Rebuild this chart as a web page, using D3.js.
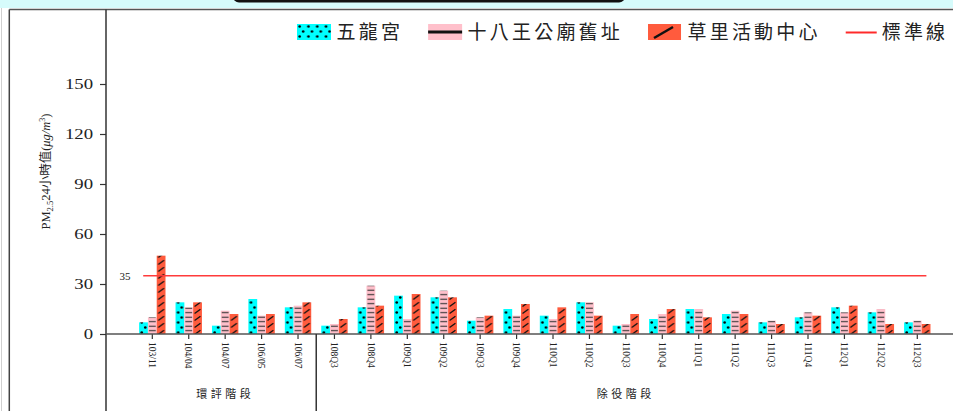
<!DOCTYPE html>
<html>
<head>
<meta charset="utf-8">
<script src="https://cdn.jsdelivr.net/npm/d3@7"></script>
<style>
  html, body { margin: 0; padding: 0; background: #fff; }
  #chart { width: 953px; height: 411px; overflow: hidden; }
  text { font-family: "Liberation Serif", "Noto Sans CJK TC", serif; fill: #222; }
</style>
</head>
<body>
<div id="chart"></div>
<script>
const categories = [
  '103/11', '104/04', '104/07', '106/05', '106/07',
  '108Q3', '108Q4', '109Q1', '109Q2', '109Q3', '109Q4',
  '110Q1', '110Q2', '110Q3', '110Q4',
  '111Q1', '111Q2', '111Q3', '111Q4',
  '112Q1', '112Q2', '112Q3'
];
const seriesNames = ['五龍宮', '十八王公廟舊址', '草里活動中心'];
const wulongValues = [7, 19, 5, 21, 16, 5, 16, 23, 22, 8, 15, 11, 19, 5, 9, 15, 12, 7, 10, 16, 13, 7];
const shibaValues = [10, 16, 14, 11, 17, 6, 29, 9, 26, 10, 11, 9, 19, 6, 12, 15, 14, 8, 13, 13, 15, 8];
const caoliValues = [47, 19, 12, 12, 19, 9, 17, 24, 22, 11, 18, 16, 11, 12, 15, 10, 12, 6, 11, 17, 6, 6];
const standardName = '標準線';
const standardValue = 35;
const yTicks = [0, 30, 60, 90, 120, 150];
const phaseNames = ['環評階段', '除役階段'];
const phaseFirst = ['103/11', '108Q3'];
const phaseLast = ['106/07', '112Q3'];

const chart = {
  width: 953,
  height: 411,
  frameTop: 9.5,
  frameLeft: 9.3,
  axisX: 106,
  groupWidth: 26.4,

  init() {
    this.svg = d3.select('#chart').append('svg')
      .attr('width', this.width)
      .attr('height', this.height);

    this.x = d3.scaleBand().domain(categories).range([134.1, 935.5]);
    this.x1 = d3.scaleBand().domain(seriesNames).range([0, this.groupWidth]);
    this.y = d3.scaleLinear().domain([0, 150]).range([334, 84]);
    this.barWidth = this.x1.bandwidth();

    this.addPatterns();
    this.drawFrame();
    this.drawAxes();
    this.drawBars();
    this.drawStandard();
    this.drawPhases();
    this.drawLegend();
  },

  addPatterns() {
    const defs = this.svg.append('defs');
    const bw = this.barWidth;

    const dots = defs.append('pattern').attr('id', 'p0')
      .attr('patternUnits', 'userSpaceOnUse').attr('width', bw).attr('height', 10);
    dots.append('rect').attr('width', bw).attr('height', 10).attr('fill', '#00ffff');
    dots.append('circle').attr('cx', bw * 0.3).attr('cy', 2.5).attr('r', 1.3).attr('fill', '#000');
    dots.append('circle').attr('cx', bw * 0.7).attr('cy', 7.5).attr('r', 1.3).attr('fill', '#000');

    const lines = defs.append('pattern').attr('id', 'p1')
      .attr('patternUnits', 'userSpaceOnUse').attr('width', bw).attr('height', 4.5);
    lines.append('rect').attr('width', bw).attr('height', 4.5).attr('fill', '#ffc0cb');
    lines.append('line').attr('x1', 1).attr('x2', bw - 1).attr('y1', 2.2).attr('y2', 2.2)
      .attr('stroke', '#333').attr('stroke-width', 1.1);

    const slash = defs.append('pattern').attr('id', 'p2')
      .attr('patternUnits', 'userSpaceOnUse').attr('width', bw).attr('height', 7);
    slash.append('rect').attr('width', bw).attr('height', 7).attr('fill', '#ff5b3d');
    slash.append('line').attr('x1', 1.5).attr('y1', 5.6).attr('x2', bw - 1.5).attr('y2', 1.2)
      .attr('stroke', '#111').attr('stroke-width', 1.3);
  },

  drawFrame() {
    const svg = this.svg;
    svg.append('rect').attr('x', 0).attr('y', 0).attr('width', this.width).attr('height', 8)
      .attr('fill', '#d6fbfb');
    svg.append('rect').attr('x', 233).attr('y', -10).attr('width', 392).attr('height', 12.5)
      .attr('rx', 6).attr('fill', '#111');
    svg.append('line').attr('x1', 1.5).attr('x2', 1.5).attr('y1', 8).attr('y2', this.height)
      .attr('stroke', '#d0d0d0').attr('stroke-width', 1);
    svg.append('line').attr('x1', this.frameLeft).attr('x2', this.width)
      .attr('y1', this.frameTop).attr('y2', this.frameTop)
      .attr('stroke', '#555').attr('stroke-width', 1.5);
    svg.append('line').attr('x1', this.frameLeft).attr('x2', this.frameLeft)
      .attr('y1', this.frameTop).attr('y2', this.height)
      .attr('stroke', '#444').attr('stroke-width', 1.5);
  },

  drawAxes() {
    const svg = this.svg;
    const y0 = this.y(0);

    const yAxis = svg.append('g')
      .attr('transform', `translate(${this.axisX},0)`)
      .call(d3.axisLeft(this.y).tickValues(yTicks).tickSize(6).tickFormat(d3.format('d')));
    yAxis.select('.domain').remove();
    yAxis.selectAll('.tick line').attr('stroke', '#333').attr('stroke-width', 1.2);
    yAxis.selectAll('.tick text')
      .attr('x', -13 / 1.25)
      .attr('transform', 'scale(1.25,1)')
      .style('font-size', '15px')
      .style('font-family', '"Liberation Serif", serif')
      .attr('fill', '#222');

    svg.append('line').attr('x1', this.axisX).attr('x2', this.axisX)
      .attr('y1', this.frameTop).attr('y2', this.height)
      .attr('stroke', '#333').attr('stroke-width', 1.5);

    const xAxis = svg.append('g')
      .attr('transform', `translate(0,${y0})`)
      .call(d3.axisBottom(this.x).tickSize(5));
    xAxis.select('.domain').remove();
    xAxis.selectAll('.tick line').attr('stroke', '#333').attr('stroke-width', 1.2);
    xAxis.selectAll('.tick text')
      .attr('transform', 'rotate(90)')
      .attr('x', 8)
      .attr('y', 0)
      .attr('dy', '0.35em')
      .style('text-anchor', 'start')
      .style('font-size', '9.5px')
      .style('font-family', '"Liberation Serif", serif')
      .attr('fill', '#222');

    const title = svg.append('text')
      .attr('transform', 'translate(50,171.5) rotate(-90)')
      .attr('text-anchor', 'middle')
      .style('font-size', '12.5px');
    title.append('tspan').text('PM');
    title.append('tspan').attr('dy', 3).style('font-size', '8.5px').text('2.5');
    title.append('tspan').attr('dy', -3).text('24小時值(');
    title.append('tspan').style('font-style', 'italic').text('μg/m');
    title.append('tspan').attr('dy', -5).style('font-size', '8px').text('3');
    title.append('tspan').attr('dy', 5).text(')');
  },

  drawBars() {
    const rows = categories.map((c, i) => ({
      category: c,
      values: [wulongValues[i], shibaValues[i], caoliValues[i]]
    }));
    const offset = (this.x.bandwidth() - this.groupWidth) / 2;

    const groups = this.svg.append('g').selectAll('g')
      .data(rows)
      .join('g')
      .attr('transform', (d) => `translate(${this.x(d.category) + offset},0)`);

    groups.selectAll('g')
      .data((d) => d.values.map((v, k) => ({ series: seriesNames[k], k, v })))
      .join('g')
      .attr('transform', (d) => `translate(${this.x1(d.series)},0)`)
      .append('rect')
      .attr('x', 0)
      .attr('y', (d) => this.y(d.v))
      .attr('width', this.barWidth)
      .attr('height', (d) => this.y(0) - this.y(d.v))
      .attr('fill', (d) => `url(#p${d.k})`);

    this.svg.append('line')
      .attr('x1', this.axisX).attr('x2', this.width)
      .attr('y1', this.y(0)).attr('y2', this.y(0))
      .attr('stroke', '#555').attr('stroke-width', 1.5);
  },

  drawStandard() {
    const bw = this.x.bandwidth();
    const ys = this.y(standardValue);
    this.svg.append('line')
      .attr('x1', this.x(categories[0]) + bw * 0.25)
      .attr('x2', this.x(categories[categories.length - 1]) + bw * 0.75)
      .attr('y1', ys).attr('y2', ys)
      .attr('stroke', '#ff3b3b').attr('stroke-width', 1.5);
    this.svg.append('text')
      .attr('x', 125).attr('y', ys).attr('dy', '0.35em')
      .attr('text-anchor', 'middle')
      .style('font-size', '11px')
      .attr('fill', '#333')
      .text(standardValue);
  },

  drawPhases() {
    const bw = this.x.bandwidth();
    phaseNames.forEach((name, i) => {
      const cx = (this.x(phaseFirst[i]) + this.x(phaseLast[i])) / 2 + bw / 2;
      this.svg.append('text')
        .attr('x', cx).attr('y', 394).attr('dy', '0.35em')
        .attr('text-anchor', 'middle')
        .style('font-size', '11px')
        .style('letter-spacing', '3.5px')
        .style('font-family', '"Noto Sans CJK TC", sans-serif')
        .attr('fill', '#222')
        .text(name);
    });
    const sx = this.x(phaseFirst[1]);
    this.svg.append('line')
      .attr('x1', sx).attr('x2', sx)
      .attr('y1', this.y(0)).attr('y2', this.height)
      .attr('stroke', '#333').attr('stroke-width', 1.5);
  },

  drawLegend() {
    const names = seriesNames.concat([standardName]);
    const top = 24;
    const cy = 32.5;
    let x = 297;

    names.forEach((name, i) => {
      const g = this.svg.append('g').attr('transform', `translate(${x},${top})`);
      if (i === 0) {
        g.append('rect').attr('width', 34).attr('height', 16).attr('fill', 'url(#p0)');
      } else if (i === 1) {
        g.append('rect').attr('width', 34).attr('height', 16).attr('fill', '#ffc0cb');
        g.append('line').attr('x1', 0).attr('x2', 34).attr('y1', 8).attr('y2', 8)
          .attr('stroke', '#111').attr('stroke-width', 3);
      } else if (i === 2) {
        g.append('rect').attr('width', 33).attr('height', 16).attr('fill', '#ff5b3d');
        g.append('line').attr('x1', 6).attr('y1', 14).attr('x2', 25).attr('y2', 3)
          .attr('stroke', '#111').attr('stroke-width', 2.5);
      } else {
        g.append('line').attr('x1', 0).attr('x2', 31).attr('y1', cy - top).attr('y2', cy - top)
          .attr('stroke', '#ff2a2a').attr('stroke-width', 2);
      }
      const label = this.svg.append('text')
        .attr('x', x + (i === 3 ? 36 : 39.5))
        .attr('y', cy).attr('dy', '0.36em')
        .style('font-size', '19px')
        .style('letter-spacing', '3.2px')
        .style('font-family', '"Noto Sans CJK TC", sans-serif')
        .attr('fill', '#333')
        .text(name);
      x = x + (i === 3 ? 36 : 39.5) + label.node().getComputedTextLength() + 25;
    });
  }
};

chart.init();
</script>
</body>
</html>
